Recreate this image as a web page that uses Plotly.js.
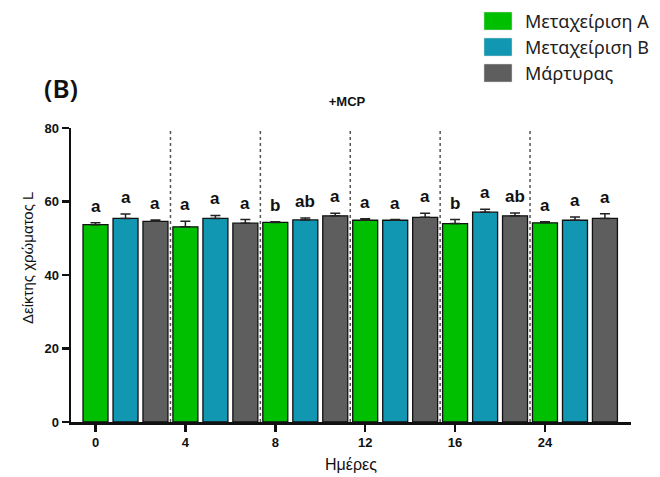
<!DOCTYPE html>
<html>
<head>
<meta charset="utf-8">
<script src="https://cdn.plot.ly/plotly-3.0.1.min.js"></script>
<style>html,body{margin:0;padding:0;background:#fff}#chart{width:660px;height:477px}</style>
</head>
<body>
<div id="chart"></div>
<script>
// ---- data ----
var days = ["0", "4", "8", "12", "16", "24"];
var seriesNames = ["Μεταχείριση Α", "Μεταχείριση Β", "Μάρτυρας"];
var treatA = [53.7, 53.1, 54.3, 54.9, 54.0, 54.2];
var treatAErr = [0.5, 1.5, 0.2, 0.4, 1.1, 0.3];
var treatB = [55.4, 55.4, 55.0, 54.9, 57.1, 54.9];
var treatBErr = [1.2, 0.8, 0.5, 0.2, 0.8, 0.9];
var control = [54.6, 54.1, 56.1, 55.7, 56.1, 55.4];
var controlErr = [0.4, 1.0, 0.7, 1.1, 0.8, 1.3];
var lettersA = ["a", "a", "b", "a", "b", "a"];
var lettersB = ["a", "a", "ab", "a", "a", "a"];
var lettersC = ["a", "a", "a", "a", "ab", "a"];
var yTicks = [0, 20, 40, 60, 80];

// ---- styles ----
var colors = ["#00BE00", "#1297B3", "#5E5E5E"];
var barW = 0.278;
var centers = [0, 0.334, 0.667];
var means = [treatA, treatB, control];
var errs = [treatAErr, treatBErr, controlErr];
var letters = [lettersA, lettersB, lettersC];

var traces = [];
for (var s = 0; s < 3; s++) {
  traces.push({
    type: "bar",
    name: seriesNames[s],
    x: days,
    y: means[s],
    width: barW,
    offset: centers[s] - barW / 2,
    marker: {color: colors[s], line: {color: "#111", width: 1.3}},
    error_y: {type: "data", symmetric: false, array: errs[s],
              arrayminus: days.map(function(){return 0;}),
              color: "#222", thickness: 1.5, width: 5},
    showlegend: false,
    hoverinfo: "x+y"
  });
}

var annotations = [];
for (var s2 = 0; s2 < 3; s2++) {
  for (var i = 0; i < days.length; i++) {
    annotations.push({
      x: i + centers[s2], y: means[s2][i] + errs[s2][i],
      xref: "x", yref: "y", text: "<b>" + letters[s2][i] + "</b>",
      showarrow: false, yanchor: "bottom", yshift: 5,
      font: {family: "Liberation Sans, Arial", size: 17, color: "#111"}
    });
  }
}

// pixel -> paper helpers (plot area: x 71..631, y 128..422)
function px(X) { return (X - 71) / 560; }
function py(Y) { return (422 - Y) / 294; }

// y axis title
annotations.push({
  xref: "paper", yref: "paper", x: px(27), y: py(258),
  text: "Δείκτης χρώματος L", textangle: -90, showarrow: false,
  xanchor: "center", yanchor: "middle",
  font: {family: "Liberation Sans, Arial", size: 15, color: "#111"}
});
// panel label
annotations.push({
  xref: "paper", yref: "paper", x: px(61), y: py(88),
  text: "(B)", showarrow: false, xanchor: "center", yanchor: "middle",
  font: {family: "Noto Sans", size: 26, color: "#111", weight: 600}
});

var shapes = [];
// dotted separators
for (var k = 0; k < days.length - 1; k++) {
  shapes.push({type: "line", xref: "x", yref: "y", x0: k + 0.834, x1: k + 0.834,
    y0: 0, y1: 80, layer: "below", line: {color: "#555", width: 1.5, dash: "dot"}});
}
// legend (swatches + labels)
var legY = [21, 47, 73];
for (var s3 = 0; s3 < 3; s3++) {
  shapes.push({type: "rect", xref: "paper", yref: "paper",
    x0: px(484), x1: px(512), y0: py(legY[s3] - 9), y1: py(legY[s3] + 9),
    fillcolor: colors[s3], line: {color: "#d8d8d8", width: 0.5}});
  annotations.push({xref: "paper", yref: "paper", x: px(523), y: py(legY[s3]),
    text: seriesNames[s3], showarrow: false, xanchor: "left", yanchor: "middle",
    font: {family: "Noto Sans", size: 18, color: "#222"}});
}

var layout = {
  width: 660, height: 477,
  margin: {l: 71, r: 29, t: 128, b: 55, pad: 0},
  paper_bgcolor: "#fff", plot_bgcolor: "#fff",
  barmode: "overlay",
  title: {text: "<b>+MCP</b>", xref: "container", yref: "container",
          x: 347 / 660, y: 1 - 101 / 477, xanchor: "center", yanchor: "middle",
          font: {family: "Liberation Sans, Arial", size: 13, color: "#111"}},
  xaxis: {type: "category", categoryorder: "array", categoryarray: days,
          range: [-0.2725, 5.957], showgrid: false, zeroline: false,
          showline: true, linecolor: "#111", linewidth: 2.5,
          ticks: "outside", ticklen: 7, tickwidth: 2.5, tickcolor: "#111",
          tickfont: {family: "Liberation Sans, Arial", size: 13, color: "#111", weight: "bold"},
          title: {text: "Ημέρες", standoff: 10,
                  font: {family: "Liberation Sans, Arial", size: 16, color: "#111"}}},
  yaxis: {range: [0, 80], tickvals: yTicks, showgrid: false, zeroline: false,
          showline: true, linecolor: "#111", linewidth: 2.5,
          ticks: "outside", ticklen: 7, tickwidth: 2.5, tickcolor: "#111",
          tickfont: {family: "Liberation Sans, Arial", size: 13, color: "#111", weight: "bold"}},
  annotations: annotations,
  shapes: shapes,
  showlegend: false
};

Plotly.newPlot("chart", traces, layout, {displayModeBar: false, staticPlot: true});
</script>
</body>
</html>
